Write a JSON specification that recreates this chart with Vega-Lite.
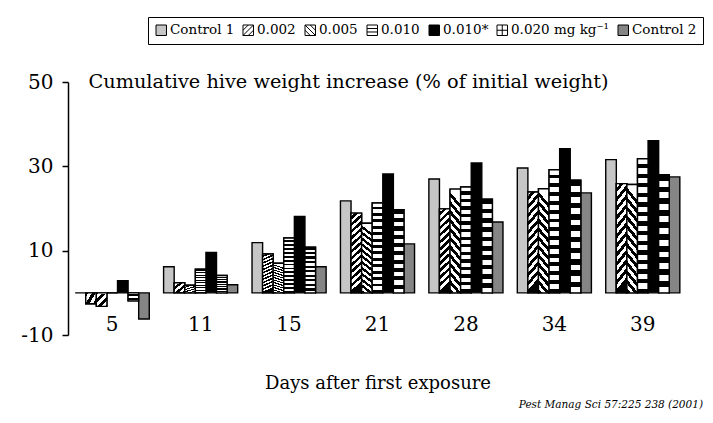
{
  "$schema": "https://vega.github.io/schema/vega-lite/v6.json",
  "width": 619,
  "height": 253,
  "autosize": {"type": "none"},
  "padding": {"left": 68, "top": 82, "right": 26, "bottom": 88},
  "background": "white",
  "config": {
    "view": {"stroke": null},
    "font": "DejaVu Serif"
  },
  "title": {
    "text": "Pest Manag Sci 57:225  238 (2001)",
    "orient": "bottom",
    "anchor": "end",
    "frame": "group",
    "dx": 16,
    "offset": 8,
    "font": "DejaVu Serif",
    "fontSize": 10.5,
    "fontStyle": "italic",
    "fontWeight": "normal",
    "color": "black"
  },
  "data": {
    "values": [
      {"day": 5, "series": "Control 1", "value": 0},
      {"day": 5, "series": "0.002", "value": -2.6},
      {"day": 5, "series": "0.005", "value": -3.2},
      {"day": 5, "series": "0.010", "value": 0},
      {"day": 5, "series": "0.010*", "value": 2.9},
      {"day": 5, "series": "0.020 mg kg⁻¹", "value": -1.9},
      {"day": 5, "series": "Control 2", "value": -6.2},
      {"day": 11, "series": "Control 1", "value": 6.2},
      {"day": 11, "series": "0.002", "value": 2.4},
      {"day": 11, "series": "0.005", "value": 1.8},
      {"day": 11, "series": "0.010", "value": 5.6},
      {"day": 11, "series": "0.010*", "value": 9.6},
      {"day": 11, "series": "0.020 mg kg⁻¹", "value": 4.1},
      {"day": 11, "series": "Control 2", "value": 1.9},
      {"day": 15, "series": "Control 1", "value": 11.9},
      {"day": 15, "series": "0.002", "value": 9.2},
      {"day": 15, "series": "0.005", "value": 7.0},
      {"day": 15, "series": "0.010", "value": 13.0},
      {"day": 15, "series": "0.010*", "value": 18.1},
      {"day": 15, "series": "0.020 mg kg⁻¹", "value": 10.8},
      {"day": 15, "series": "Control 2", "value": 6.2},
      {"day": 21, "series": "Control 1", "value": 21.8},
      {"day": 21, "series": "0.002", "value": 18.9},
      {"day": 21, "series": "0.005", "value": 16.5},
      {"day": 21, "series": "0.010", "value": 21.3},
      {"day": 21, "series": "0.010*", "value": 28.2},
      {"day": 21, "series": "0.020 mg kg⁻¹", "value": 19.7},
      {"day": 21, "series": "Control 2", "value": 11.6},
      {"day": 28, "series": "Control 1", "value": 27.0},
      {"day": 28, "series": "0.002", "value": 19.9},
      {"day": 28, "series": "0.005", "value": 24.6},
      {"day": 28, "series": "0.010", "value": 25.1},
      {"day": 28, "series": "0.010*", "value": 30.8},
      {"day": 28, "series": "0.020 mg kg⁻¹", "value": 22.2},
      {"day": 28, "series": "Control 2", "value": 16.8},
      {"day": 34, "series": "Control 1", "value": 29.6},
      {"day": 34, "series": "0.002", "value": 23.9},
      {"day": 34, "series": "0.005", "value": 24.7},
      {"day": 34, "series": "0.010", "value": 29.2},
      {"day": 34, "series": "0.010*", "value": 34.2},
      {"day": 34, "series": "0.020 mg kg⁻¹", "value": 26.7},
      {"day": 34, "series": "Control 2", "value": 23.7},
      {"day": 39, "series": "Control 1", "value": 31.6},
      {"day": 39, "series": "0.002", "value": 25.9},
      {"day": 39, "series": "0.005", "value": 25.7},
      {"day": 39, "series": "0.010", "value": 31.8},
      {"day": 39, "series": "0.010*", "value": 36.1},
      {"day": 39, "series": "0.020 mg kg⁻¹", "value": 28.0},
      {"day": 39, "series": "Control 2", "value": 27.5}
    ]
  },
  "encoding": {
    "x": {
      "field": "day",
      "type": "ordinal",
      "scale": {"paddingInner": 0.162, "paddingOuter": 0.081},
      "axis": {
        "domain": false,
        "ticks": false,
        "tickSize": 0,
        "offset": -5,
        "labelPadding": 0,
        "labelBaseline": "alphabetic",
        "labelAngle": 0,
        "labelFont": "DejaVu Serif",
        "labelFontSize": 20,
        "labelColor": "black",
        "title": "Days after first exposure",
        "titleFont": "DejaVu Serif",
        "titleFontSize": 18,
        "titleFontWeight": "normal",
        "titleColor": "black",
        "titleBaseline": "alphabetic",
        "titleY": 58
      }
    },
    "xOffset": {
      "field": "series",
      "type": "nominal",
      "scale": {"domain": ["Control 1", "0.002", "0.005", "0.010", "0.010*", "0.020 mg kg⁻¹", "Control 2"], "paddingInner": 0, "paddingOuter": 0}
    },
    "y": {
      "field": "value",
      "type": "quantitative",
      "scale": {"domain": [-10, 50], "nice": false, "zero": false},
      "axis": {
        "values": [-10, 10, 30, 50],
        "labelExpr": "replace(datum.label, '−', '-')",
        "grid": false,
        "domainColor": "black",
        "domainWidth": 1.5,
        "tickColor": "black",
        "tickWidth": 1.5,
        "tickSize": 6,
        "labelPadding": 9,
        "labelFont": "DejaVu Serif",
        "labelFontSize": 20,
        "labelColor": "black",
        "title": "Cumulative hive weight increase (%  of initial weight)",
        "titleAngle": 0,
        "titleAlign": "left",
        "titleBaseline": "alphabetic",
        "titleX": 20,
        "titleY": 5,
        "titleFont": "DejaVu Serif",
        "titleFontSize": 19.3,
        "titleFontWeight": "normal",
        "titleColor": "black"
      }
    }
  },
  "layer": [
    {
      "mark": {"type": "bar", "stroke": "black", "strokeWidth": 1.4},
      "encoding": {
        "fill": {
          "field": "series",
          "type": "nominal",
          "scale": {
            "domain": ["Control 1", "0.002", "0.005", "0.010", "0.010*", "0.020 mg kg⁻¹", "Control 2"],
            "range": ["#c6c6c6", "#ffffff", "#ffffff", "#ffffff", "#000000", "#ffffff", "#858585"]
          },
          "legend": {
            "orient": "none",
            "legendX": 80,
            "legendY": -65,
            "direction": "horizontal",
            "columns": 7,
            "title": null,
            "strokeColor": "black",
            "padding": 6.5,
            "symbolSize": 110,
            "symbolStrokeColor": "black",
            "symbolStrokeWidth": 1,
            "symbolOpacity": 1,
            "labelFont": "DejaVu Serif",
            "labelFontSize": 13.5,
            "labelColor": "black",
            "labelOffset": 2,
            "columnPadding": 6,
            "labelLimit": 200
          }
        }
      }
    },
    {
      "transform": [{"filter": "datum.series === '0.002'"}],
      "mark": {"type": "bar", "stroke": "black", "strokeWidth": 1.4, "fill": {"gradient": "linear", "x1": 0, "y1": 0, "x2": 0.12, "y2": 1, "stops": [
        {"offset": 0, "color": "#fff"}, {"offset": 0.0417, "color": "#fff"}, {"offset": 0.0417, "color": "#000"}, {"offset": 0.0833, "color": "#000"},
        {"offset": 0.0833, "color": "#fff"}, {"offset": 0.125, "color": "#fff"}, {"offset": 0.125, "color": "#000"}, {"offset": 0.1667, "color": "#000"},
        {"offset": 0.1667, "color": "#fff"}, {"offset": 0.2083, "color": "#fff"}, {"offset": 0.2083, "color": "#000"}, {"offset": 0.25, "color": "#000"},
        {"offset": 0.25, "color": "#fff"}, {"offset": 0.2917, "color": "#fff"}, {"offset": 0.2917, "color": "#000"}, {"offset": 0.3333, "color": "#000"},
        {"offset": 0.3333, "color": "#fff"}, {"offset": 0.375, "color": "#fff"}, {"offset": 0.375, "color": "#000"}, {"offset": 0.4167, "color": "#000"},
        {"offset": 0.4167, "color": "#fff"}, {"offset": 0.4583, "color": "#fff"}, {"offset": 0.4583, "color": "#000"}, {"offset": 0.5, "color": "#000"},
        {"offset": 0.5, "color": "#fff"}, {"offset": 0.5417, "color": "#fff"}, {"offset": 0.5417, "color": "#000"}, {"offset": 0.5833, "color": "#000"},
        {"offset": 0.5833, "color": "#fff"}, {"offset": 0.625, "color": "#fff"}, {"offset": 0.625, "color": "#000"}, {"offset": 0.6667, "color": "#000"},
        {"offset": 0.6667, "color": "#fff"}, {"offset": 0.7083, "color": "#fff"}, {"offset": 0.7083, "color": "#000"}, {"offset": 0.75, "color": "#000"},
        {"offset": 0.75, "color": "#fff"}, {"offset": 0.7917, "color": "#fff"}, {"offset": 0.7917, "color": "#000"}, {"offset": 0.8333, "color": "#000"},
        {"offset": 0.8333, "color": "#fff"}, {"offset": 0.875, "color": "#fff"}, {"offset": 0.875, "color": "#000"}, {"offset": 0.9167, "color": "#000"},
        {"offset": 0.9167, "color": "#fff"}, {"offset": 0.9583, "color": "#fff"}, {"offset": 0.9583, "color": "#000"}, {"offset": 1, "color": "#000"}
      ]}}
    },
    {
      "transform": [{"filter": "datum.series === '0.005'"}],
      "mark": {"type": "bar", "stroke": "black", "strokeWidth": 1.4, "fill": {"gradient": "linear", "x1": 0.12, "y1": 0, "x2": 0, "y2": 1, "stops": [
        {"offset": 0, "color": "#fff"}, {"offset": 0.0417, "color": "#fff"}, {"offset": 0.0417, "color": "#000"}, {"offset": 0.0833, "color": "#000"},
        {"offset": 0.0833, "color": "#fff"}, {"offset": 0.125, "color": "#fff"}, {"offset": 0.125, "color": "#000"}, {"offset": 0.1667, "color": "#000"},
        {"offset": 0.1667, "color": "#fff"}, {"offset": 0.2083, "color": "#fff"}, {"offset": 0.2083, "color": "#000"}, {"offset": 0.25, "color": "#000"},
        {"offset": 0.25, "color": "#fff"}, {"offset": 0.2917, "color": "#fff"}, {"offset": 0.2917, "color": "#000"}, {"offset": 0.3333, "color": "#000"},
        {"offset": 0.3333, "color": "#fff"}, {"offset": 0.375, "color": "#fff"}, {"offset": 0.375, "color": "#000"}, {"offset": 0.4167, "color": "#000"},
        {"offset": 0.4167, "color": "#fff"}, {"offset": 0.4583, "color": "#fff"}, {"offset": 0.4583, "color": "#000"}, {"offset": 0.5, "color": "#000"},
        {"offset": 0.5, "color": "#fff"}, {"offset": 0.5417, "color": "#fff"}, {"offset": 0.5417, "color": "#000"}, {"offset": 0.5833, "color": "#000"},
        {"offset": 0.5833, "color": "#fff"}, {"offset": 0.625, "color": "#fff"}, {"offset": 0.625, "color": "#000"}, {"offset": 0.6667, "color": "#000"},
        {"offset": 0.6667, "color": "#fff"}, {"offset": 0.7083, "color": "#fff"}, {"offset": 0.7083, "color": "#000"}, {"offset": 0.75, "color": "#000"},
        {"offset": 0.75, "color": "#fff"}, {"offset": 0.7917, "color": "#fff"}, {"offset": 0.7917, "color": "#000"}, {"offset": 0.8333, "color": "#000"},
        {"offset": 0.8333, "color": "#fff"}, {"offset": 0.875, "color": "#fff"}, {"offset": 0.875, "color": "#000"}, {"offset": 0.9167, "color": "#000"},
        {"offset": 0.9167, "color": "#fff"}, {"offset": 0.9583, "color": "#fff"}, {"offset": 0.9583, "color": "#000"}, {"offset": 1, "color": "#000"}
      ]}}
    },
    {
      "transform": [{"filter": "datum.series === '0.010'"}],
      "mark": {"type": "bar", "stroke": "black", "strokeWidth": 1.4, "fill": {"gradient": "linear", "x1": 0, "y1": 0, "x2": 0, "y2": 1, "stops": [
        {"offset": 0, "color": "#fff"}, {"offset": 0.0393, "color": "#fff"}, {"offset": 0.0393, "color": "#000"}, {"offset": 0.0714, "color": "#000"},
        {"offset": 0.0714, "color": "#fff"}, {"offset": 0.1107, "color": "#fff"}, {"offset": 0.1107, "color": "#000"}, {"offset": 0.1429, "color": "#000"},
        {"offset": 0.1429, "color": "#fff"}, {"offset": 0.1822, "color": "#fff"}, {"offset": 0.1822, "color": "#000"}, {"offset": 0.2143, "color": "#000"},
        {"offset": 0.2143, "color": "#fff"}, {"offset": 0.2536, "color": "#fff"}, {"offset": 0.2536, "color": "#000"}, {"offset": 0.2857, "color": "#000"},
        {"offset": 0.2857, "color": "#fff"}, {"offset": 0.325, "color": "#fff"}, {"offset": 0.325, "color": "#000"}, {"offset": 0.3571, "color": "#000"},
        {"offset": 0.3571, "color": "#fff"}, {"offset": 0.3964, "color": "#fff"}, {"offset": 0.3964, "color": "#000"}, {"offset": 0.4286, "color": "#000"},
        {"offset": 0.4286, "color": "#fff"}, {"offset": 0.4679, "color": "#fff"}, {"offset": 0.4679, "color": "#000"}, {"offset": 0.5, "color": "#000"},
        {"offset": 0.5, "color": "#fff"}, {"offset": 0.5393, "color": "#fff"}, {"offset": 0.5393, "color": "#000"}, {"offset": 0.5714, "color": "#000"},
        {"offset": 0.5714, "color": "#fff"}, {"offset": 0.6107, "color": "#fff"}, {"offset": 0.6107, "color": "#000"}, {"offset": 0.6429, "color": "#000"},
        {"offset": 0.6429, "color": "#fff"}, {"offset": 0.6821, "color": "#fff"}, {"offset": 0.6821, "color": "#000"}, {"offset": 0.7143, "color": "#000"},
        {"offset": 0.7143, "color": "#fff"}, {"offset": 0.7536, "color": "#fff"}, {"offset": 0.7536, "color": "#000"}, {"offset": 0.7857, "color": "#000"},
        {"offset": 0.7857, "color": "#fff"}, {"offset": 0.825, "color": "#fff"}, {"offset": 0.825, "color": "#000"}, {"offset": 0.8571, "color": "#000"},
        {"offset": 0.8571, "color": "#fff"}, {"offset": 0.8964, "color": "#fff"}, {"offset": 0.8964, "color": "#000"}, {"offset": 0.9286, "color": "#000"},
        {"offset": 0.9286, "color": "#fff"}, {"offset": 0.9679, "color": "#fff"}, {"offset": 0.9679, "color": "#000"}, {"offset": 1, "color": "#000"}
      ]}}
    },
    {
      "transform": [{"filter": "datum.series === '0.020 mg kg⁻¹'"}],
      "mark": {"type": "bar", "stroke": "black", "strokeWidth": 1.4, "fill": {"gradient": "linear", "x1": 0, "y1": 0, "x2": 0, "y2": 1, "stops": [
        {"offset": 0, "color": "#000"}, {"offset": 0.05, "color": "#000"}, {"offset": 0.05, "color": "#fff"}, {"offset": 0.1, "color": "#fff"},
        {"offset": 0.1, "color": "#000"}, {"offset": 0.15, "color": "#000"}, {"offset": 0.15, "color": "#fff"}, {"offset": 0.2, "color": "#fff"},
        {"offset": 0.2, "color": "#000"}, {"offset": 0.25, "color": "#000"}, {"offset": 0.25, "color": "#fff"}, {"offset": 0.3, "color": "#fff"},
        {"offset": 0.3, "color": "#000"}, {"offset": 0.35, "color": "#000"}, {"offset": 0.35, "color": "#fff"}, {"offset": 0.4, "color": "#fff"},
        {"offset": 0.4, "color": "#000"}, {"offset": 0.45, "color": "#000"}, {"offset": 0.45, "color": "#fff"}, {"offset": 0.5, "color": "#fff"},
        {"offset": 0.5, "color": "#000"}, {"offset": 0.55, "color": "#000"}, {"offset": 0.55, "color": "#fff"}, {"offset": 0.6, "color": "#fff"},
        {"offset": 0.6, "color": "#000"}, {"offset": 0.65, "color": "#000"}, {"offset": 0.65, "color": "#fff"}, {"offset": 0.7, "color": "#fff"},
        {"offset": 0.7, "color": "#000"}, {"offset": 0.75, "color": "#000"}, {"offset": 0.75, "color": "#fff"}, {"offset": 0.8, "color": "#fff"},
        {"offset": 0.8, "color": "#000"}, {"offset": 0.85, "color": "#000"}, {"offset": 0.85, "color": "#fff"}, {"offset": 0.9, "color": "#fff"},
        {"offset": 0.9, "color": "#000"}, {"offset": 0.95, "color": "#000"}, {"offset": 0.95, "color": "#fff"}, {"offset": 1, "color": "#fff"}
      ]}}
    },
    {
      "mark": {"type": "point", "filled": true, "opacity": 0, "size": 1},
      "encoding": {
        "shape": {
          "field": "series",
          "type": "nominal",
          "scale": {
            "domain": ["Control 1", "0.002", "0.005", "0.010", "0.010*", "0.020 mg kg⁻¹", "Control 2"],
            "range": [
              "square",
              "M-1,-1H1V1H-1Z M-1,0L0,-1 M-1,1L1,-1 M0,1L1,0",
              "M-1,-1H1V1H-1Z M0,-1L1,0 M-1,-1L1,1 M-1,0L0,1",
              "M-1,-1H1V1H-1Z M-1,-0.33H1 M-1,0.33H1",
              "square",
              "M-1,-1H1V1H-1Z M-1,0H1 M0,-1V1",
              "square"
            ]
          },
          "legend": {
            "orient": "none",
            "legendX": 80,
            "legendY": -65,
            "direction": "horizontal",
            "columns": 7,
            "title": null,
            "strokeColor": "black",
            "padding": 6.5,
            "symbolSize": 110,
            "symbolStrokeColor": "black",
            "symbolStrokeWidth": 1,
            "symbolOpacity": 1,
            "labelFont": "DejaVu Serif",
            "labelFontSize": 13.5,
            "labelColor": "black",
            "labelOffset": 2,
            "columnPadding": 6,
            "labelLimit": 200
          }
        },
        "stroke": {
          "field": "series",
          "type": "nominal",
          "scale": {
            "domain": ["Control 1", "0.002", "0.005", "0.010", "0.010*", "0.020 mg kg⁻¹", "Control 2"],
            "range": ["#000000", "#000000", "#000000", "#000000", "#000000", "#000000", "#000000"]
          },
          "legend": {
            "orient": "none",
            "legendX": 80,
            "legendY": -65,
            "direction": "horizontal",
            "columns": 7,
            "title": null,
            "strokeColor": "black",
            "padding": 6.5,
            "symbolSize": 110,
            "symbolStrokeColor": "black",
            "symbolStrokeWidth": 1,
            "symbolOpacity": 1,
            "labelFont": "DejaVu Serif",
            "labelFontSize": 13.5,
            "labelColor": "black",
            "labelOffset": 2,
            "columnPadding": 6,
            "labelLimit": 200
          }
        }
      }
    },
    {
      "data": {"values": [{}]},
      "mark": {"type": "rule", "color": "black", "strokeWidth": 1.5},
      "encoding": {"y": {"datum": 0}, "x": null, "xOffset": null}
    }
  ]
}
